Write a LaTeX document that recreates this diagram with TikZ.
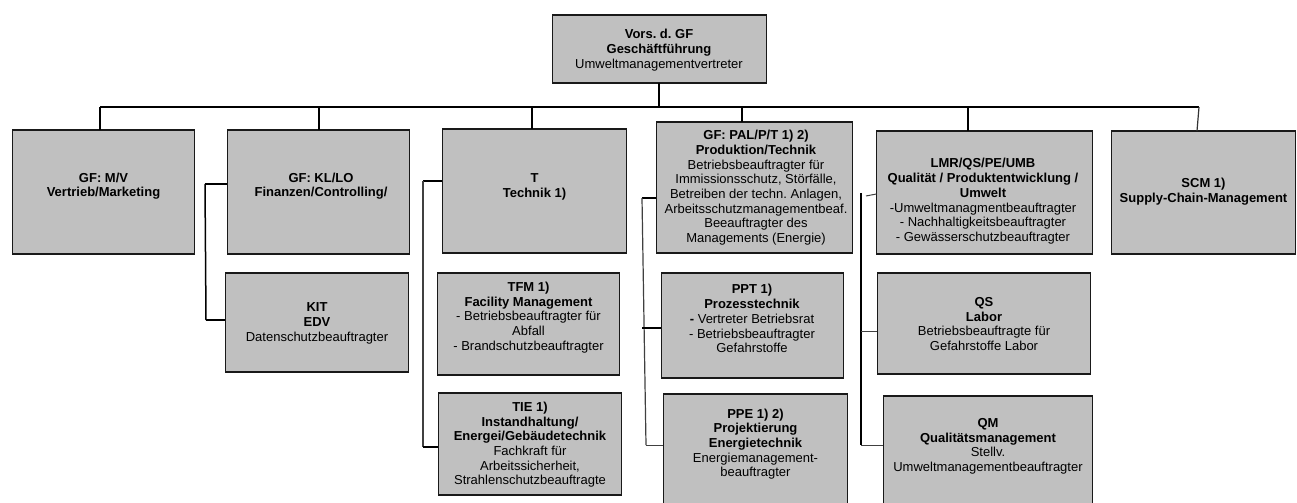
\documentclass[tikz,border=0pt]{standalone}
\usepackage{fontspec}
\setmainfont{Liberation Sans}
\definecolor{boxgray}{RGB}{192,192,192}
\newcommand{\fl}{\rule{0pt}{10bp}}
\begin{document}
\frenchspacing
\begin{tikzpicture}[x=1bp,y=-1bp,
  box/.style={draw=black!90, line width=1.6bp, fill=boxgray, inner sep=0pt, outer sep=0pt},
  txt/.style={anchor=north, inner sep=0pt, outer sep=0pt, align=center, font=\fontsize{13bp}{14.7bp}\selectfont},
  conn/.style={line width=1.8bp, black},
  subv/.style={line width=1.2bp, black!75},
  subh/.style={line width=1.6bp, black}]
\useasboundingbox (0,0) rectangle (1297,503);
% boxes
\node[box, minimum width=215, minimum height=68] (gf) at (659.5,49) {};
\node[box, minimum width=183, minimum height=124] (mv) at (103.5,192) {};
\node[box, minimum width=183, minimum height=124] (kl) at (318.5,192) {};
\node[box, minimum width=185, minimum height=124] (t) at (534.5,191) {};
\node[box, minimum width=197, minimum height=131] (pal) at (754.5,187.5) {};
\node[box, minimum width=217, minimum height=123] (lmr) at (984.5,192.5) {};
\node[box, minimum width=185, minimum height=123] (scm) at (1203.5,192.5) {};
\node[box, minimum width=184, minimum height=99] (kit) at (317,322.5) {};
\node[box, minimum width=183, minimum height=102] (tfm) at (528.5,324) {};
\node[box, minimum width=184, minimum height=102] (tie) at (530,444) {};
\node[box, minimum width=183, minimum height=105] (ppt) at (752.5,325.5) {};
\node[box, minimum width=185, minimum height=116] (ppe) at (755.5,452) {};
\node[box, minimum width=214, minimum height=101] (qs) at (984,323.5) {};
\node[box, minimum width=210, minimum height=114] (qm) at (988,453) {};
% texts
\node[txt, font=\fontsize{13bp}{15bp}\selectfont] (gft) at (659,28.7) {\fl\textbf{Vors. d. GF}\\\textbf{Geschäftführung}\\Umweltmanagementvertreter};
\node[txt] (mvt) at (103.5,172.2) {\fl\textbf{GF: M/V}\\\textbf{Vertrieb/Marketing}};
\node[txt] (klt) at (321,172.2) {\fl\textbf{GF: KL/LO}\\\textbf{Finanzen/Controlling/}};
\node[txt] (tt) at (534.5,172.7) {\fl\textbf{T}\\\textbf{Technik 1)}};
\node[txt] (palt) at (756,129.7) {\fl\textbf{GF: PAL/P/T 1) 2)}\\\textbf{Produktion/Technik}\\Betriebsbeauftragter für\\Immissionsschutz, Störfälle,\\Betreiben der techn. Anlagen,\\Arbeitsschutzmanagementbeaf.\\Beeauftragter des\\Managements (Energie)};
\node[txt] (lmrt) at (983,158) {\fl\textbf{LMR/QS/PE/UMB}\\\textbf{Qualität / Produktentwicklung /}\\\textbf{Umwelt}\\-Umweltmanagmentbeauftragter\\- Nachhaltigkeitsbeauftragter\\- Gewässerschutzbeauftragter};
\node[txt] (scmt) at (1203.5,177.7) {\fl\textbf{SCM 1)}\\\textbf{Supply-Chain-Management}};
\node[txt] (kitt) at (317,302) {\fl\textbf{KIT}\\\textbf{EDV}\\Datenschutzbeauftragter};
\node[txt] (tfmt) at (528.5,281.4) {\fl\textbf{TFM 1)}\\\textbf{Facility Management}\\- Betriebsbeauftragter für\\Abfall\\- Brandschutzbeauftragter};
\node[txt] (tiet) at (530,401.4) {\fl\textbf{TIE 1)}\\\textbf{Instandhaltung/}\\\textbf{Energei/Gebäudetechnik}\\Fachkraft für\\Arbeitssicherheit,\\Strahlenschutzbeauftragte};
\node[txt] (pptt) at (752,284) {\fl\textbf{PPT 1)}\\\textbf{Prozesstechnik}\\\textbf{-} Vertreter Betriebsrat\\- Betriebsbeauftragter\\Gefahrstoffe};
\node[txt] (ppet) at (755.5,408) {\fl\textbf{PPE 1) 2)}\\\textbf{Projektierung}\\\textbf{Energietechnik}\\Energiemanagement-\\beauftragter};
\node[txt] (qst) at (984,296.4) {\fl\textbf{QS}\\\textbf{Labor}\\Betriebsbeauftragte für\\Gefahrstoffe Labor};
\node[txt] (qmt) at (988,417.4) {\fl\textbf{QM}\\\textbf{Qualitätsmanagement}\\Stellv.\\Umweltmanagementbeauftragter};
% main connectors
\coordinate (dgf) at (659,107);
\coordinate (dmv) at (100,107);
\coordinate (dkl) at (319,107);
\coordinate (dt) at (532,107);
\coordinate (dpal) at (742,107);
\coordinate (dlmr) at (968,107);
\coordinate (dscm) at (1199,107);
\draw[conn] (gf.south -| dgf) -- (dgf);
\draw[conn] (dmv) -- (dscm);
\draw[conn] (dmv) -- (dmv |- mv.north);
\draw[conn] (dkl) -- (dkl |- kl.north);
\draw[conn] (dt) -- (dt |- t.north);
\draw[conn] (dpal) -- (dpal |- pal.north);
\draw[conn] (dlmr) -- (dlmr |- lmr.north);
\draw[line width=1.2bp, black!80] (dscm) -- (1197,131);
% KL bracket
\coordinate (kla) at (205,184);
\coordinate (klb) at (206,320);
\draw[subh] (kl.west |- kla) -- (kla);
\draw[line width=1.5bp] (kla) -- (klb);
\draw[subh] (klb) -- (kit.west |- klb);
% T bracket
\coordinate (ta) at (423,181);
\coordinate (tb) at (423,447);
\draw[subh] (t.west |- ta) -- (ta);
\draw[subv] (ta) -- (tb);
\draw[subh] (tb) -- (tie.west |- tb);
% PAL bracket
\coordinate (pa) at (642,198);
\coordinate (pb) at (646,445);
\coordinate (pc) at (642,328);
\draw[subh] (pal.west |- pa) -- (pa);
\draw[subv] (pa) -- (pb);
\draw[subh] (pc) -- (ppt.west |- pc);
\draw[line width=1bp, black!75] (pb) -- (ppe.west |- pb);
% LMR bracket
\coordinate (la) at (866,196);
\coordinate (lb) at (861,193);
\coordinate (lc) at (861,445);
\coordinate (ld) at (861,332);
\draw[line width=1bp, black!75] (lmr.west |- 0,194) -- (la);
\draw[conn] (lb) -- (lc);
\draw[line width=1bp, black!75] (ld) -- (qs.west |- ld);
\draw[line width=1bp, black!75] (lc) -- (qm.west |- lc);
\end{tikzpicture}
\end{document}
